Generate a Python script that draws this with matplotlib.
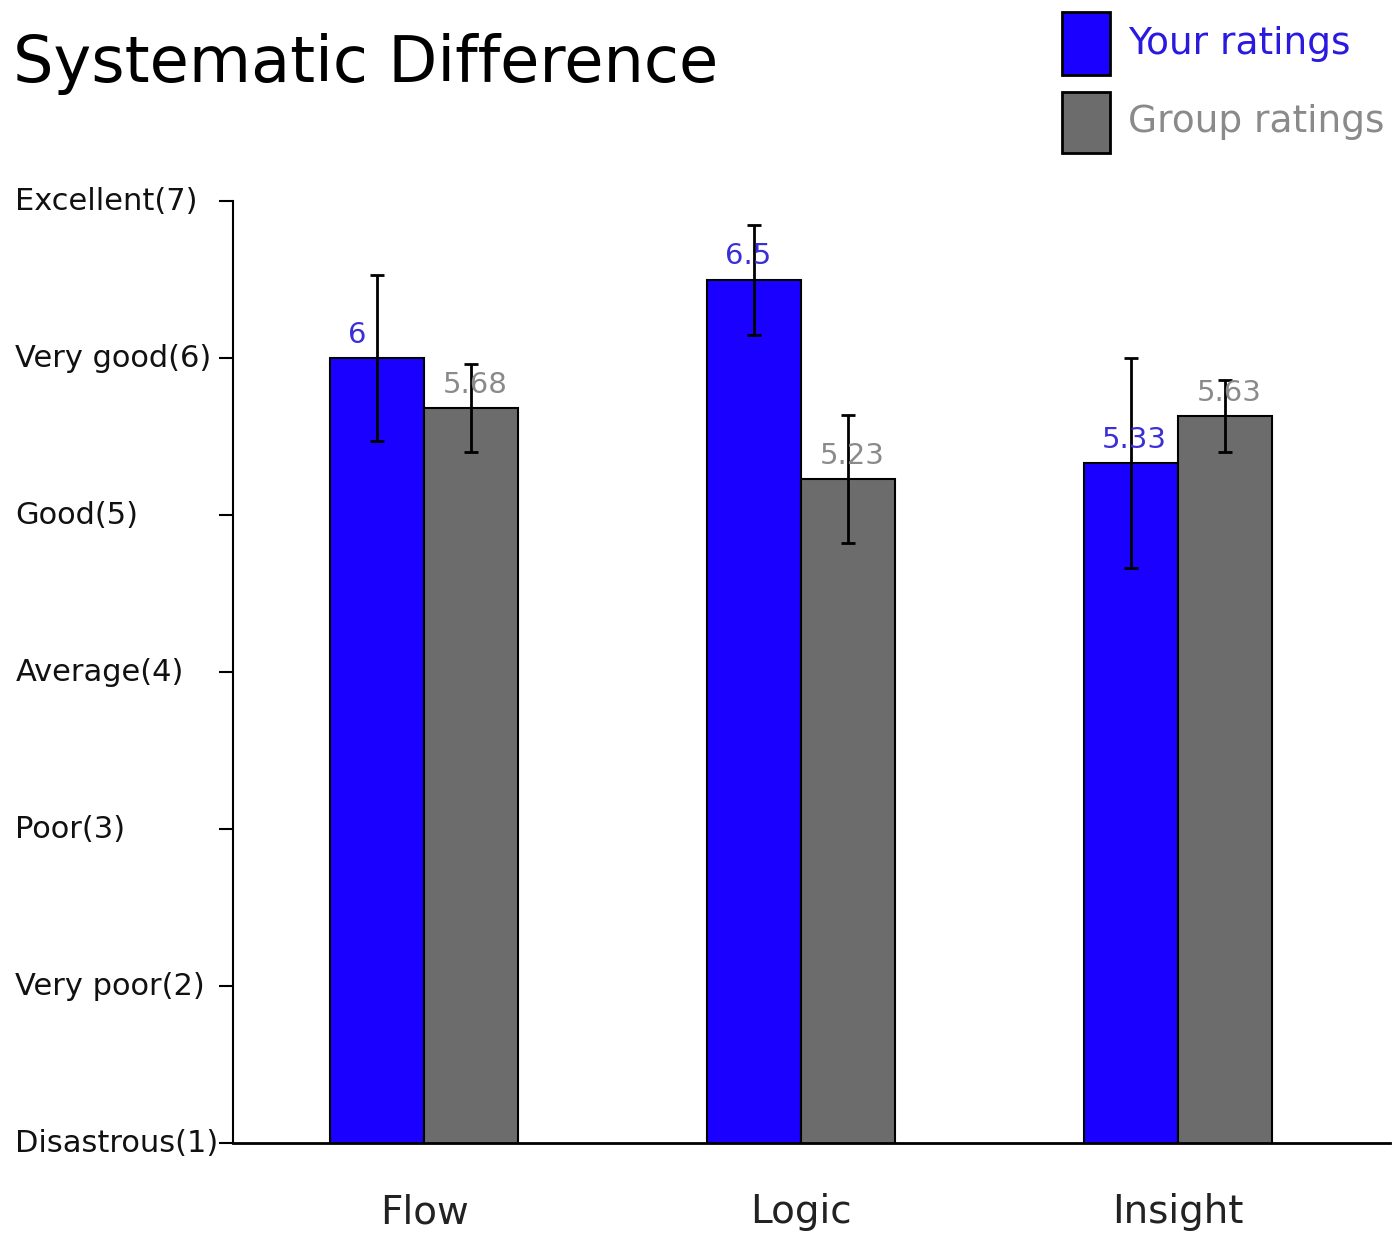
import matplotlib.pyplot as plt
import matplotlib.transforms as mtransforms
from matplotlib.patches import Rectangle

categories = ['Flow', 'Logic', 'Insight']
your_ratings = [6.0, 6.5, 5.33]
your_err = [0.53, 0.35, 0.67]
group_ratings = [5.68, 5.23, 5.63]
group_err = [0.28, 0.41, 0.23]
your_labels = ['6', '6.5', '5.33']
group_labels = ['5.68', '5.23', '5.63']
tick_values = [1, 2, 3, 4, 5, 6, 7]
tick_labels = ['Disastrous(1)', 'Very poor(2)', 'Poor(3)', 'Average(4)',
               'Good(5)', 'Very good(6)', 'Excellent(7)']

BLUE = '#1a00ff'
GRAY = '#6c6c6c'

fig = plt.figure(figsize=(13.94, 12.34), dpi=100)
ax = fig.add_axes([0.1671, 0.0737, 0.8299, 0.7633])

x = list(range(len(categories)))
w = 0.25
xb = [i - w / 2 for i in x]
xg = [i + w / 2 for i in x]

ax.bar(xb, your_ratings, width=w, color=BLUE, edgecolor='black', linewidth=1.5, zorder=2)
ax.bar(xg, group_ratings, width=w, color=GRAY, edgecolor='black', linewidth=1.5, zorder=2)
ax.errorbar(xb, your_ratings, yerr=your_err, fmt='none', ecolor='black', elinewidth=2, capsize=5, capthick=2, zorder=3)
ax.errorbar(xg, group_ratings, yerr=group_err, fmt='none', ecolor='black', elinewidth=2, capsize=5, capthick=2, zorder=3)

# value labels start a little right of each bar's left edge
for xi, v, s in zip(xb, your_ratings, your_labels):
    ax.text(xi - w / 2 + 0.048, v + 0.06, s, ha='left', va='bottom', color='#3a2fd6', fontsize=21, zorder=4)
for xi, v, s in zip(xg, group_ratings, group_labels):
    ax.text(xi - w / 2 + 0.05, v + 0.06, s, ha='left', va='bottom', color='#8a8a8a', fontsize=21, zorder=4)

ax.set_xlim(-0.507, 2.562)
ax.set_ylim(1, 7)
for side in ['top', 'right']:
    ax.spines[side].set_visible(False)
ax.spines['left'].set_linewidth(1.5)
ax.spines['bottom'].set_linewidth(2)

ax.set_xticks(x)
ax.set_xticklabels(categories, fontsize=28, color='#222222')
ax.tick_params(axis='x', length=0, pad=36)
ax.set_yticks(tick_values)
ax.set_yticklabels([])
ax.tick_params(axis='y', length=10, width=1.5)

trans = mtransforms.blended_transform_factory(fig.transFigure, ax.transData)
for v, s in zip(tick_values, tick_labels):
    ax.text(0.011, v, s, transform=trans, ha='left', va='center', fontsize=22, color='#111111')

fig.text(0.009, 0.948, 'Systematic Difference', ha='left', va='center', fontsize=46, color='black')

# legend
fig.patches.append(Rectangle((1062 / 1394, 1 - 75 / 1234), 48 / 1394, 63 / 1234,
                             transform=fig.transFigure, facecolor=BLUE, edgecolor='black', linewidth=2))
fig.patches.append(Rectangle((1062 / 1394, 1 - 153 / 1234), 48 / 1394, 61 / 1234,
                             transform=fig.transFigure, facecolor=GRAY, edgecolor='black', linewidth=2))
fig.text(1128 / 1394, 1 - 44 / 1234, 'Your ratings', ha='left', va='center', fontsize=27, color='#2a1ae0')
fig.text(1128 / 1394, 1 - 122 / 1234, 'Group ratings', ha='left', va='center', fontsize=27, color='#8a8a8a')

fig.savefig('out.png', dpi=100, facecolor='white')
